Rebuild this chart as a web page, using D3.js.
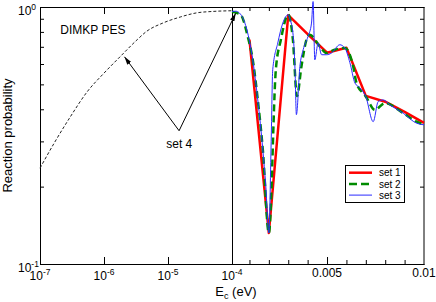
<!DOCTYPE html>
<html><head><meta charset="utf-8">
<script src="https://cdn.jsdelivr.net/npm/d3@7"></script>
<style>body{margin:0;background:#fff}svg{display:block;font-family:"Liberation Sans",Arial,sans-serif}</style>
</head><body>
<script>
// ---- data ----
const set1 = [[0.001,0.746],[0.002,0.132],[0.003,0.929],[0.004,0.784],[0.005,0.664],[0.006,0.694],[0.007,0.451],[0.008,0.428],[0.009,0.391],[0.01,0.354]];
const set2 = [[0.0001,0.959],[0.00055,0.933],[0.00091,0.768],[0.00117,0.623],[0.00143,0.435],[0.00169,0.278],[0.002,0.132],[0.00236,0.57],[0.00262,0.746],[0.003,0.933],[0.00324,0.746],[0.00345,0.45],[0.00368,0.587],[0.00394,0.746],[0.00411,0.78],[0.00463,0.702],[0.00497,0.662],[0.0054,0.682],[0.00592,0.692],[0.00635,0.587],[0.00652,0.506],[0.00686,0.462],[0.007,0.448],[0.00747,0.398],[0.00799,0.423],[0.00893,0.386],[0.00962,0.358],[0.01,0.348]];
const set3 = [[0.0001,0.961],[0.00029,0.963],[0.00048,0.948],[0.0007,0.892],[0.00091,0.792],[0.00117,0.623],[0.00143,0.435],[0.00169,0.278],[0.00184,0.203],[0.002,0.132],[0.00212,0.3],[0.0022,0.57],[0.00246,0.724],[0.00272,0.866],[0.003,0.933],[0.0031,0.892],[0.00324,0.794],[0.00335,0.57],[0.00342,0.381],[0.0036,0.587],[0.00377,0.682],[0.00402,0.768],[0.0042,0.866],[0.00428,1.05],[0.00437,0.623],[0.00454,0.724],[0.00472,0.652],[0.00497,0.652],[0.00523,0.662],[0.00566,0.713],[0.00592,0.692],[0.00618,0.607],[0.00644,0.506],[0.00669,0.485],[0.007,0.448],[0.00738,0.358],[0.00764,0.429],[0.0079,0.435],[0.00824,0.416],[0.00893,0.386],[0.00962,0.353],[0.01,0.348]];
const set4 = [[1e-7,0.236],[1.66e-7,0.295],[3.0e-7,0.375],[5.5e-7,0.469],[1e-6,0.553],[1.8e-6,0.642],[3.3e-6,0.746],[4.6e-6,0.803],[8.3e-6,0.866],[1.55e-5,0.914],[2.75e-5,0.948],[5e-5,0.961],[1e-4,0.967]];
const xLogTicks = [1e-7,1e-6,1e-5,1e-4];
const xLogExps = ["-7","-6","-5","-4"];
const xLinMajor = [0.005,0.01];
const xLinLabels = ["0.005","0.01"];
const xLinMinor = [0.001,0.002,0.003,0.004,0.006,0.007,0.008,0.009];
const yMinor = [0.2,0.3,0.4,0.5,0.6,0.7,0.8,0.9];
const yLabels = [[1,"0"],[0.1,"-1"]];
const legendNames = ["set 1","set 2","set 3"];

// ---- layout ----
const W=436,H=302, L=40, R=424, T=7, B=264, MID=232;
const svg = d3.select("body").append("svg").attr("width",W).attr("height",H);
const xLog = d3.scaleLog().domain([1e-7,1e-4]).range([L,MID]);
const xLin = d3.scaleLinear().domain([1e-4,0.01]).range([MID,R]);
const x = E => E <= 1e-4 ? xLog(E) : xLin(E);
const y = d3.scaleLog().domain([0.1,1]).range([B,T]);

// frame
const fr = svg.append("g").attr("stroke","#000").attr("stroke-width",1).attr("fill","none");
fr.append("line").attr("x1",L+0.5).attr("x2",L+0.5).attr("y1",T).attr("y2",B+1);
fr.append("line").attr("x1",L).attr("x2",R+0.5).attr("y1",T+0.5).attr("y2",T+0.5);
fr.append("line").attr("x1",L).attr("x2",R+0.5).attr("y1",B+0.5).attr("y2",B+0.5);
fr.append("line").attr("x1",R).attr("x2",R).attr("y1",T).attr("y2",B+1);
fr.append("line").attr("x1",MID+0.5).attr("x2",MID+0.5).attr("y1",T).attr("y2",B+1);

function ax(g){ g.select(".domain").remove(); g.selectAll("line").attr("stroke","#000"); }
svg.append("g").attr("transform",`translate(0,${B})`).call(d3.axisBottom(xLog).tickValues(xLogTicks.slice(1,3)).tickSize(-7).tickFormat("")).call(ax);
svg.append("g").attr("transform",`translate(0,${T})`).call(d3.axisTop(xLog).tickValues(xLogTicks.slice(1,3)).tickSize(-7).tickFormat("")).call(ax);
svg.append("g").attr("transform",`translate(0,${B})`).call(d3.axisBottom(xLin).tickValues([0.005]).tickSize(-7).tickFormat("")).call(ax);
svg.append("g").attr("transform",`translate(0,${T})`).call(d3.axisTop(xLin).tickValues([0.005]).tickSize(-7).tickFormat("")).call(ax);
svg.append("g").attr("transform",`translate(0,${B})`).call(d3.axisBottom(xLin).tickValues(xLinMinor).tickSize(-4).tickFormat("")).call(ax);
svg.append("g").attr("transform",`translate(0,${T})`).call(d3.axisTop(xLin).tickValues(xLinMinor).tickSize(-4).tickFormat("")).call(ax);
svg.append("g").attr("transform",`translate(${L},0)`).call(d3.axisLeft(y).tickValues(yMinor).tickSize(-4).tickFormat("")).call(ax);
svg.append("g").attr("transform",`translate(${R},0)`).call(d3.axisRight(y).tickValues(yMinor).tickSize(-4).tickFormat("")).call(ax);

// tick labels
const tl = svg.append("g").attr("font-size",12).attr("fill","#000");
xLogTicks.forEach((v,i)=>{
  const t = tl.append("text").attr("x",xLog(v)).attr("y",280).attr("text-anchor","middle");
  t.append("tspan").text("10");
  t.append("tspan").attr("font-size",8.5).attr("dy",-5).text(xLogExps[i]);
});
xLinMajor.forEach((v,i)=>{
  tl.append("text").attr("x",xLin(v)).attr("y",277.3).attr("text-anchor","middle").text(xLinLabels[i]);
});
yLabels.forEach(([v,e])=>{
  const t = tl.append("text").attr("x",18).attr("y",y(v)+7.7);
  t.append("tspan").text("10");
  t.append("tspan").attr("font-size",8.5).attr("dy",-5).text(e);
});

// axis titles
svg.append("text").attr("transform",`translate(11.5,135.5) rotate(-90)`).attr("text-anchor","middle").attr("font-size",13).text("Reaction probability");
const xt = svg.append("text").attr("x",236).attr("y",296).attr("text-anchor","middle").attr("font-size",13);
xt.append("tspan").text("E");
xt.append("tspan").attr("font-size",9).attr("dy",3).text("c");
xt.append("tspan").attr("dy",-3).text(" (eV)");

// series
const lin = d3.line().x(d=>x(d[0])).y(d=>y(d[1]));
const smooth = d3.line().x(d=>x(d[0])).y(d=>y(d[1])).curve(d3.curveMonotoneX);
svg.append("path").datum(set4).attr("d",smooth).attr("fill","none").attr("stroke","#222").attr("stroke-width",1).attr("stroke-dasharray","3,2");
svg.append("path").datum(set1).attr("d",lin).attr("fill","none").attr("stroke","#ff0000").attr("stroke-width",2.5).attr("stroke-linejoin","round");
svg.append("path").datum(set2).attr("d",smooth).attr("fill","none").attr("stroke","#008b00").attr("stroke-width",2.5).attr("stroke-dasharray","7,4");
svg.append("path").datum(set3).attr("d",smooth).attr("fill","none").attr("stroke","#2b2bff").attr("stroke-width",1);

// annotations
svg.append("defs").append("marker").attr("id","ah").attr("viewBox","0 0 10 6").attr("refX",10).attr("refY",3)
  .attr("markerWidth",8).attr("markerHeight",5).attr("markerUnits","userSpaceOnUse").attr("orient","auto")
  .append("path").attr("d","M0,0 L10,3 L0,6 z").attr("fill","#000");
const vtx = [1.49e-5,0.330], tip1 = [2.09e-6,0.640], tip2 = [0.00029,0.945];
[tip1,tip2].forEach(tp=>{
  svg.append("line").attr("x1",x(vtx[0])).attr("y1",y(vtx[1])).attr("x2",x(tp[0])).attr("y2",y(tp[1]))
    .attr("stroke","#000").attr("stroke-width",1).attr("marker-end","url(#ah)");
});
svg.append("text").attr("x",x(1.5e-5)).attr("y",y(0.282)).attr("text-anchor","middle").attr("font-size",12).text("set 4");
svg.append("text").attr("x",x(2.08e-7)).attr("y",y(0.785)).attr("font-size",12).text("DIMKP PES");

// legend
const lg = svg.append("g");
lg.append("rect").attr("x",345.5).attr("y",165.5).attr("width",59).attr("height",37).attr("fill","#fff").attr("stroke","#000");
const lstyles = [["#ff0000",2.5,null],["#008b00",2.5,"8,4"],["#2b2bff",1,null]];
legendNames.forEach((n,i)=>{
  const yy = 172.7 + i*11.2;
  const l = lg.append("line").attr("x1",349).attr("x2",372).attr("y1",yy).attr("y2",yy).attr("stroke",lstyles[i][0]).attr("stroke-width",lstyles[i][1]);
  if(lstyles[i][2]) l.attr("stroke-dasharray",lstyles[i][2]);
  lg.append("text").attr("x",379).attr("y",yy+3.6).attr("font-size",10).text(n);
});
</script>
</body></html>
